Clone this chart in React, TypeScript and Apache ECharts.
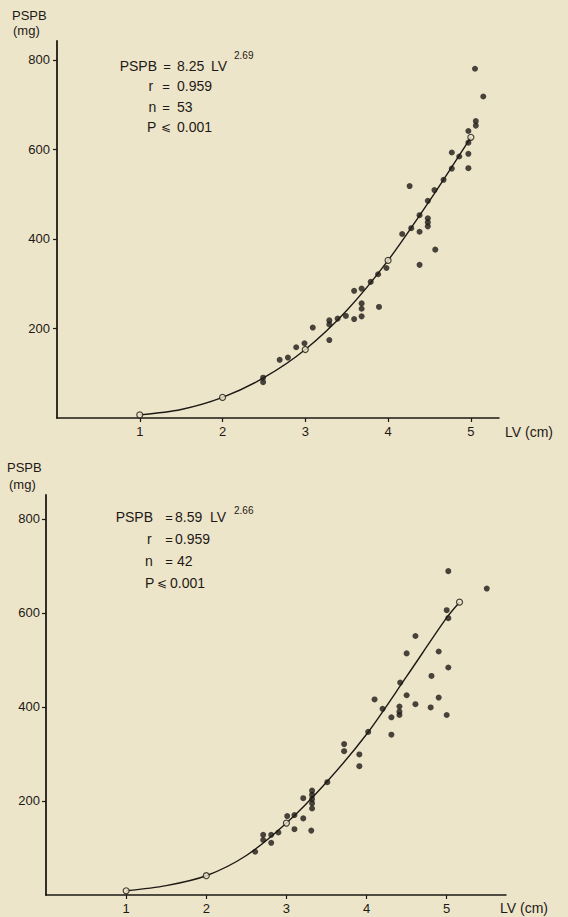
import React, { useEffect, useRef } from "react";
import * as echarts from "echarts";

// ---------- Top panel data ----------
const topLV = [
  5.05, 5.15, 5.06, 5.06, 4.97, 4.97, 4.77, 4.86, 4.97, 4.97, 4.77, 4.67, 4.56, 4.26, 4.48, 4.38,
  4.48, 4.48, 4.48, 4.28, 4.17, 4.38, 4.38, 4.57, 2.49, 2.49, 2.69, 2.79, 2.89, 2.99, 3.09, 3.29,
  3.29, 3.29, 3.39, 3.49, 3.59, 3.59, 3.68, 3.68, 3.68, 3.68, 3.79, 3.88, 3.89, 3.98,
];
const topPSPB = [
  780, 718, 663, 653, 641, 615, 593, 584, 590, 558, 557, 532, 509, 518, 485, 453,
  446, 437, 428, 424, 411, 416, 342, 376, 90, 80, 130, 135, 158, 167, 202, 218,
  209, 174, 222, 228, 221, 284, 289, 256, 244, 227, 304, 321, 248, 335,
];
const topCurveLV = [1, 1.5, 2, 2.5, 3, 3.5, 4, 4.5, 5];
const topCurvePSPB = [7, 19, 46, 90, 153, 240, 352, 485, 627];
const topOpenLV = [1, 2, 3, 4, 5];
const topOpenPSPB = [7, 46, 153, 352, 627];

// ---------- Bottom panel data ----------
const botLV = [
  5.02, 5.5, 5.0, 5.02, 4.61, 4.5, 4.9, 5.02, 4.81, 4.42, 4.1, 4.5, 4.2, 4.41, 4.41, 4.41,
  4.61, 4.9, 4.8, 5.0, 4.31, 4.02, 4.31, 3.72, 3.72, 3.91, 3.91, 3.51, 3.32, 3.32, 3.32, 3.32,
  3.32, 3.21, 3.21, 3.31, 3.1, 3.1, 3.01, 2.9, 2.81, 2.81, 2.71, 2.71, 2.61,
];
const botPSPB = [
  689, 652, 606, 589, 551, 514, 518, 484, 466, 452, 416, 425, 396, 401, 390, 383,
  406, 420, 399, 383, 378, 347, 341, 321, 306, 299, 274, 240, 222, 213, 204, 195,
  184, 206, 163, 137, 170, 140, 168, 133, 128, 111, 128, 117, 92,
];
const botCurveLV = [1, 1.5, 2, 2.5, 3, 3.5, 4, 4.5, 5, 5.16];
const botCurvePSPB = [9, 20, 41, 84, 153, 240, 342, 465, 590, 623];
const botOpenLV = [1, 2, 3, 5.16];
const botOpenPSPB = [9, 41, 153, 623];

// ---------- Axis ticks ----------
const xTicks = [1, 2, 3, 4, 5];
const yTicks = [200, 400, 600, 800];

const zip = (a: number[], b: number[]) => a.map((v, i) => [v, b[i]]);

const INK = "#1d1915";
const BG = "#ede5ca";
const FONT = '"Liberation Sans", Arial, Helvetica, sans-serif';

function axisX(gridIndex: number, max: number) {
  return {
    gridIndex,
    type: "value",
    min: 0,
    max,
    axisLine: { show: true, onZero: false, lineStyle: { color: INK, width: 1.5 } },
    axisTick: {
      show: true,
      inside: false,
      length: 4,
      customValues: xTicks,
      lineStyle: { color: INK, width: 1.2 },
    },
    axisLabel: {
      show: true,
      customValues: xTicks,
      margin: 7,
      color: INK,
      fontSize: 13,
      fontFamily: FONT,
    },
    splitLine: { show: false },
  };
}

function axisY(gridIndex: number, max: number, margin: number) {
  return {
    gridIndex,
    type: "value",
    min: 0,
    max,
    axisLine: { show: true, onZero: false, lineStyle: { color: INK, width: 1.8 } },
    axisTick: {
      show: true,
      inside: false,
      length: 4,
      customValues: yTicks,
      lineStyle: { color: INK, width: 1.2 },
    },
    axisLabel: {
      show: true,
      customValues: yTicks,
      margin,
      color: INK,
      fontSize: 13,
      fontFamily: FONT,
    },
    splitLine: { show: false },
  };
}

function txt(text: string, x: number, y: number, size: number, align = "left") {
  return {
    type: "text",
    x,
    y,
    silent: true,
    style: {
      text,
      fill: INK,
      font: `${size}px ${FONT}`,
      textAlign: align,
      textVerticalAlign: "middle",
    },
  };
}

function panelSeries(
  idx: number,
  lv: number[],
  ps: number[],
  cLV: number[],
  cPS: number[],
  oLV: number[],
  oPS: number[]
) {
  return [
    {
      type: "line",
      xAxisIndex: idx,
      yAxisIndex: idx,
      data: zip(cLV, cPS),
      smooth: 0.3,
      showSymbol: false,
      lineStyle: { color: INK, width: 1.4 },
      z: 2,
    },
    {
      type: "scatter",
      xAxisIndex: idx,
      yAxisIndex: idx,
      data: zip(oLV, oPS),
      symbol: "circle",
      symbolSize: 6,
      itemStyle: { color: BG, borderColor: INK, borderWidth: 1.2 },
      z: 3,
    },
    {
      type: "scatter",
      xAxisIndex: idx,
      yAxisIndex: idx,
      data: zip(lv, ps),
      symbol: "circle",
      symbolSize: 6,
      itemStyle: { color: INK },
      z: 4,
    },
  ];
}

export default function App() {
  const ref = useRef<HTMLDivElement>(null);

  useEffect(() => {
    document.body.style.margin = "0";
    if (!ref.current) return;
    const chart = echarts.init(ref.current, undefined, { renderer: "svg" });
    chart.setOption({
      animation: false,
      backgroundColor: BG,
      grid: [
        { left: 57, top: 41, width: 442, height: 377 },
        { left: 46, top: 495, width: 460, height: 400 },
      ],
      xAxis: [axisX(0, 5.34), axisX(1, 5.74)],
      yAxis: [axisY(0, 842, 7), axisY(1, 851, 6)],
      series: [
        ...panelSeries(0, topLV, topPSPB, topCurveLV, topCurvePSPB, topOpenLV, topOpenPSPB),
        ...panelSeries(1, botLV, botPSPB, botCurveLV, botCurvePSPB, botOpenLV, botOpenPSPB),
      ],
      graphic: [
        // top panel labels
        txt("PSPB", 12, 15, 13),
        txt("(mg)", 13, 30, 13),
        txt("LV (cm)", 505, 432, 14),
        txt("PSPB", 157, 66, 14, "right"),
        txt("=", 167, 66, 13, "center"),
        txt("8.25", 177, 66, 14),
        txt("LV", 211, 66, 14),
        txt("2.69", 234, 55, 10),
        txt("r", 148.5, 86, 14),
        txt("=", 166, 86, 13, "center"),
        txt("0.959", 177, 86, 14),
        txt("n", 148.5, 107, 14),
        txt("=", 166, 107, 13, "center"),
        txt("53", 177, 107, 14),
        txt("P", 147, 127, 14),
        txt("⩽", 166, 127, 12, "center"),
        txt("0.001", 177, 127, 14),
        // bottom panel labels
        txt("PSPB", 7, 467, 13),
        txt("(mg)", 9, 484, 13),
        txt("LV (cm)", 500, 908, 14),
        txt("PSPB", 153, 517, 14, "right"),
        txt("=", 169, 517, 13, "center"),
        txt("8.59", 175, 517, 14),
        txt("LV", 210, 517, 14),
        txt("2.66", 234, 510, 10),
        txt("r", 147, 539, 14),
        txt("=", 169, 539, 13, "center"),
        txt("0.959", 175, 539, 14),
        txt("n", 145, 561, 14),
        txt("=", 169, 561, 13, "center"),
        txt("42", 177, 561, 14),
        txt("P", 145, 583, 14),
        txt("⩽", 162, 583, 12, "center"),
        txt("0.001", 170, 583, 14),
      ],
    });
    return () => chart.dispose();
  }, []);

  return <div ref={ref} style={{ width: 568, height: 917 }} />;
}
